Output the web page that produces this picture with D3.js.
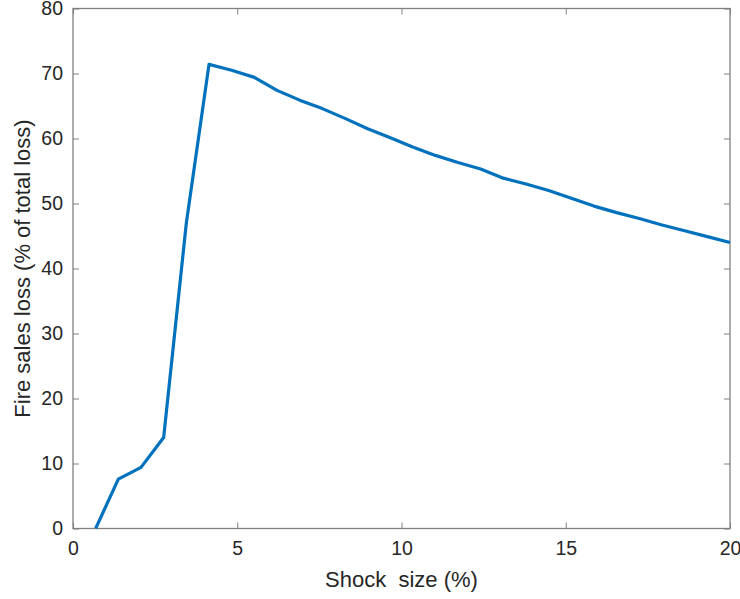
<!DOCTYPE html>
<html>
<head>
<meta charset="utf-8">
<script src="https://cdn.jsdelivr.net/npm/d3@7"></script>
<style>
  body { margin: 0; background: #fff; }
  svg { display: block; }
</style>
</head>
<body>
<svg id="chart" width="740" height="599"></svg>
<script>
const shockSize = [0.69, 1.38, 2.07, 2.76, 3.45, 4.14, 4.83, 5.52, 6.21, 6.90, 7.59, 8.28, 8.97, 9.66, 10.34, 11.03, 11.72, 12.41, 13.10, 13.79, 14.48, 15.17, 15.86, 16.55, 17.24, 17.93, 18.62, 19.31, 20.00];
const fireSalesLoss = [0.0, 7.6, 9.4, 14.0, 47.0, 71.4, 70.5, 69.4, 67.4, 65.9, 64.6, 63.1, 61.5, 60.1, 58.7, 57.4, 56.3, 55.3, 53.9, 53.0, 52.0, 50.8, 49.6, 48.6, 47.7, 46.7, 45.8, 44.9, 44.0];
const xTicks = [0, 5, 10, 15, 20];
const yTicks = [0, 10, 20, 30, 40, 50, 60, 70, 80];
const xLabel = "Shock\u00a0\u00a0size (%)";
const yLabel = "Fire sales loss (% of total loss)";

const svg = d3.select("#chart");
const margin = { left: 73, right: 10, top: 8.5, bottom: 70.5 };
const W = 740, H = 599;
const x = d3.scaleLinear().domain([0, 20]).range([margin.left, W - margin.right]);
const y = d3.scaleLinear().domain([0, 80]).range([H - margin.bottom, margin.top]);

const axisColor = "#808080";
const textColor = "#262626";
const font = "'Liberation Sans', Arial, Helvetica, sans-serif";

function styleAxis(g, showText) {
  g.select(".domain").remove();
  g.selectAll(".tick line").attr("stroke", axisColor).attr("stroke-width", 1);
  g.selectAll(".tick text").attr("fill", textColor).style("font-family", font).style("font-size", "19.5px");
  if (!showText) g.selectAll(".tick text").remove();
}

// bottom axis (ticks inward)
svg.append("g").attr("transform", `translate(0,${y(0)})`)
  .call(d3.axisBottom(x).tickValues(xTicks).tickFormat(d3.format("d")).tickSizeInner(-6).tickSizeOuter(0).tickPadding(13))
  .call(g => styleAxis(g, true));
// top axis
svg.append("g").attr("transform", `translate(0,${y(80)})`)
  .call(d3.axisTop(x).tickValues(xTicks).tickSizeInner(-6).tickSizeOuter(0))
  .call(g => styleAxis(g, false));
// left axis
svg.append("g").attr("transform", `translate(${x(0)},0)`)
  .call(d3.axisLeft(y).tickValues(yTicks).tickFormat(d3.format("d")).tickSizeInner(-6).tickSizeOuter(0).tickPadding(10))
  .call(g => styleAxis(g, true));
// right axis
svg.append("g").attr("transform", `translate(${x(20)},0)`)
  .call(d3.axisRight(y).tickValues(yTicks).tickSizeInner(-6).tickSizeOuter(0))
  .call(g => styleAxis(g, false));

// box
svg.append("rect")
  .attr("x", x(0)).attr("y", y(80))
  .attr("width", x(20) - x(0)).attr("height", y(0) - y(80))
  .attr("fill", "none").attr("stroke", axisColor).attr("stroke-width", 1.3);

// line
const line = d3.line().x((d, i) => x(shockSize[i])).y(d => y(d));
svg.append("path")
  .datum(fireSalesLoss)
  .attr("d", line)
  .attr("fill", "none")
  .attr("stroke", "#0072BD")
  .attr("stroke-width", 3.2)
  .attr("stroke-linejoin", "round");

// labels
svg.append("text")
  .attr("x", (x(0) + x(20)) / 2).attr("y", 587)
  .attr("text-anchor", "middle")
  .attr("fill", textColor)
  .style("font-family", font).style("font-size", "22px")
  .text(xLabel);

svg.append("text")
  .attr("transform", `translate(30,${(y(0) + y(80)) / 2}) rotate(-90)`)
  .attr("text-anchor", "middle")
  .attr("fill", textColor)
  .style("font-family", font).style("font-size", "22px")
  .text(yLabel);
</script>
</body>
</html>
